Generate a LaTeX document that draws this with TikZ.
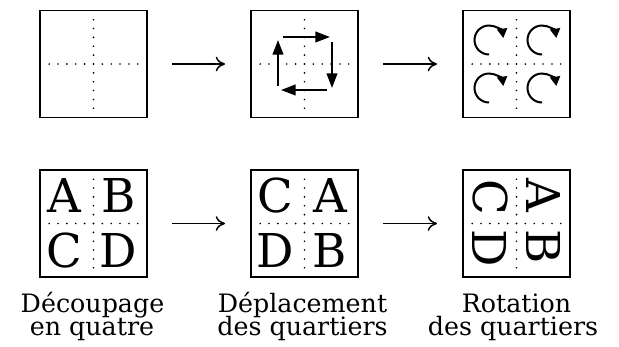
\documentclass[tikz,border=0pt]{standalone}
\usepackage{fontspec}
\setmainfont{DejaVu Serif}
\usetikzlibrary{arrows.meta,calc}
\begin{document}
\begin{tikzpicture}[x=0.75pt,y=-0.75pt,
  panel/.style={draw, line width=1.25pt, inner sep=0pt, outer sep=0pt, minimum size=80.25pt},
  dotrule/.style={line width=1.35pt, line cap=round, dash pattern=on 0pt off 6.65pt},
  move/.style={line width=1.5pt, -{Triangle[length=11pt,width=8pt]}},
  turn/.style={line width=1.5pt, -{Triangle[length=7pt,width=7.5pt]}},
  flow/.style={line width=1.1pt, -{Computer Modern Rightarrow[length=7pt,width=11pt]},
    shorten <=19pt, shorten >=19.5pt},
  letter/.style={inner sep=0pt, font=\fontsize{35}{40}\selectfont},
  caption/.style={inner sep=0pt, anchor=base, font=\fontsize{19}{23}\selectfont}]
\useasboundingbox (0,0) rectangle (619,347);

% six square panels, each split in four by dotted rules
\foreach \n/\cx/\cy in {t1/93.5/64, t2/304.5/64, t3/516.5/64,
                        b1/93.5/223.5, b2/304.5/223.5, b3/516.5/223.5} {
  \node[panel] (\n) at (\cx,\cy) {};
  \draw[dotrule] (\cx-44.35,\cy) -- (\cx+44.6,\cy);
  \draw[dotrule] (\cx,\cy-44.35) -- (\cx,\cy+44.6);
}

% steps between panels
\draw[flow] (t1) -- (t2);
\draw[flow] (t2) -- (t3);
\draw[flow] (b1) -- (b2);
\draw[flow] (b2) -- (b3);

% quarters moving round
\draw[move] (283,37) -- (330,37);
\draw[move] (332,42) -- (332,88);
\draw[move] (327,90) -- (281,90);
\draw[move] (278,86) -- (278,40);

% each quarter turning clockwise
\foreach \ax/\ay in {489/40, 542/40, 489/88, 542/88}
  \draw[turn] (\ax,\ay) ++(90:14.5) arc[start angle=90, end angle=352, radius=14.5];

% quarters labelled
\node[letter, anchor=base] (a1) at (64.5,212) {A};
\node[letter, anchor=base] (b1l) at (118.5,212) {B};
\node[letter, anchor=base] (c1) at (64.5,267) {C};
\node[letter, anchor=base] (d1) at (118.5,267) {D};

\node[letter, anchor=base] (c2) at (275,212) {C};
\node[letter, anchor=base] (a2) at (330,212) {A};
\node[letter, anchor=base] (d2) at (275,267) {D};
\node[letter, anchor=base] (b2l) at (330,267) {B};

\node[letter, rotate=-90] (c3) at (490,197.5) {C};
\node[letter, rotate=-90] (a3) at (543.5,195) {A};
\node[letter, rotate=-90] (d3) at (490,248.5) {D};
\node[letter, rotate=-90] (b3l) at (543.5,247) {B};

% captions
\node[caption] (l1a) at (92.5,312) {Découpage};
\node[caption] (l1b) at (92,335) {en quatre};
\node[caption] (l2a) at (302.5,312) {Déplacement};
\node[caption] (l2b) at (302.5,335) {des quartiers};
\node[caption] (l3a) at (516.5,312) {Rotation};
\node[caption] (l3b) at (513,335) {des quartiers};
\end{tikzpicture}
\end{document}
